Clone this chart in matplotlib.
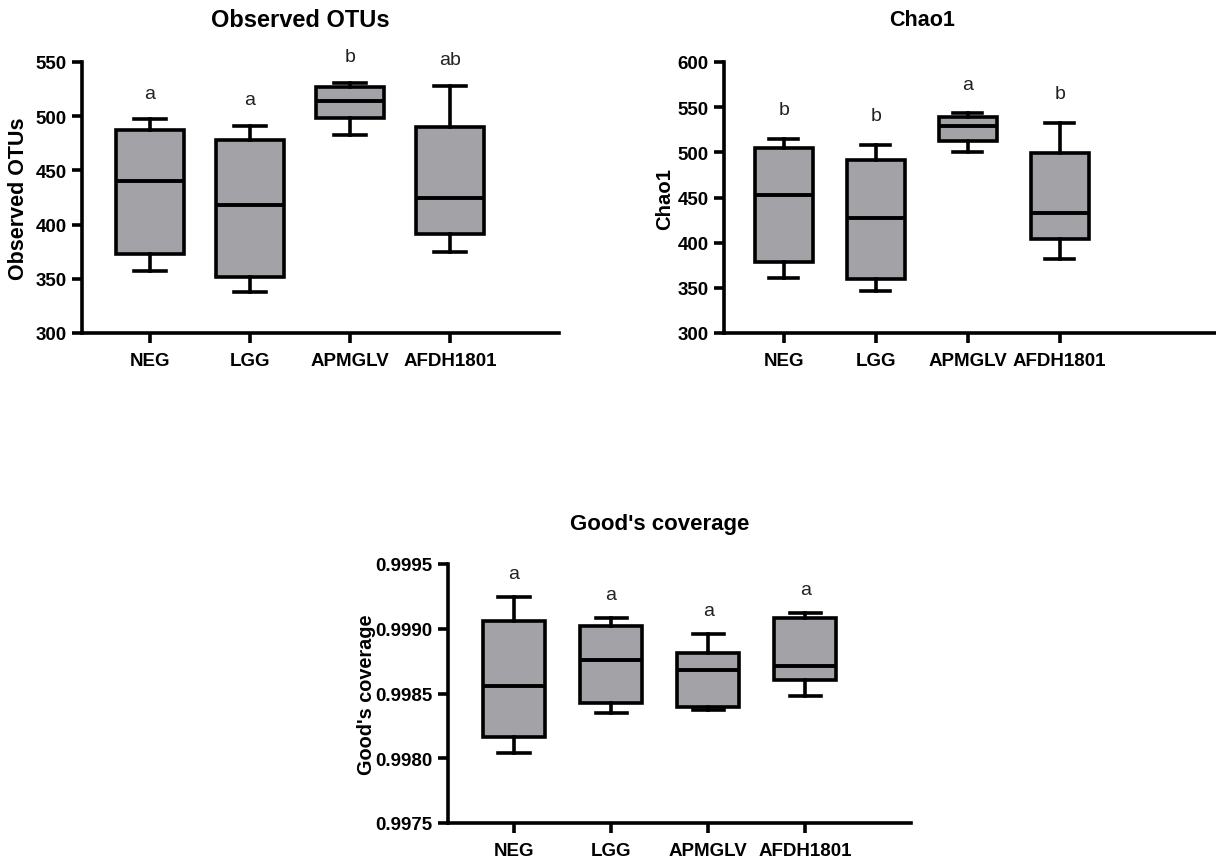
import matplotlib

matplotlib.use("Agg")
import matplotlib.pyplot as plt
import numpy as np
from matplotlib.ticker import FormatStrFormatter

plt.rcParams["font.family"] = ["Liberation Sans", "DejaVu Sans"]

groups = ["NEG", "LGG", "APMGLV", "AFDH1801"]

# observed OTUs: whisker low, q1, median, q3, whisker high
otus_low = [357, 338, 483, 375]
otus_q1 = [373, 352, 498, 391]
otus_med = [440, 418, 514, 425]
otus_q3 = [487, 478, 527, 490]
otus_high = [497, 491, 531, 528]
otus_letters = ["a", "a", "b", "ab"]

chao_low = [361, 346, 500, 382]
chao_q1 = [379, 360, 513, 404]
chao_med = [453, 427, 529, 433]
chao_q3 = [505, 492, 539, 499]
chao_high = [515, 508, 543, 533]
chao_letters = ["b", "b", "a", "b"]

good_low = [0.998038, 0.998347, 0.998375, 0.998481]
good_q1 = [0.998167, 0.998424, 0.998393, 0.998604]
good_med = [0.998555, 0.998759, 0.998681, 0.998715]
good_q3 = [0.999062, 0.999024, 0.998813, 0.999086]
good_high = [0.999243, 0.999083, 0.998959, 0.999119]
good_letters = ["a", "a", "a", "a"]

BOX_COLOR = "#a2a2a7"
LW = 2.6

W, H = 1216, 862
fig = plt.figure(figsize=(W / 100, H / 100), dpi=100)


def px_axes(left, right, top, bottom):
    return fig.add_axes([left / W, 1 - bottom / H, (right - left) / W, (bottom - top) / H])


def draw_panel(ax, lows, q1s, meds, q3s, highs, letters, title, ylim, yticks, xlim,
               box_w, letter_off, title_x, title_size, ylabel_x, ylabel_size, fmt=None):
    stats = []
    for lo, q1, med, q3, hi in zip(lows, q1s, meds, q3s, highs):
        stats.append({"whislo": lo, "q1": q1, "med": med, "q3": q3, "whishi": hi, "fliers": []})
    pos = np.arange(len(groups))
    ax.bxp(stats, positions=pos, widths=box_w, capwidths=0.32, patch_artist=True,
           showfliers=False,
           boxprops=dict(facecolor=BOX_COLOR, edgecolor="black", linewidth=LW),
           medianprops=dict(color="black", linewidth=2.8),
           whiskerprops=dict(color="black", linewidth=LW),
           capprops=dict(color="black", linewidth=LW))
    for x, hi, lab in zip(pos, highs, letters):
        ax.annotate(lab, (x, hi), xytext=(0, letter_off), textcoords="offset points",
                    ha="center", va="center", fontsize=14, color="#222222")
    ax.set_xlim(*xlim)
    ax.set_ylim(*ylim)
    ax.set_yticks(yticks)
    if fmt:
        ax.yaxis.set_major_formatter(FormatStrFormatter(fmt))
    ax.set_xticks(pos)
    ax.set_xticklabels(groups)
    for s in ["top", "right"]:
        ax.spines[s].set_visible(False)
    for s in ["left", "bottom"]:
        ax.spines[s].set_linewidth(LW)
    ax.tick_params(width=LW, length=7, labelsize=13.5, pad=4)
    ax.tick_params(axis="x", pad=7)
    for t in ax.get_xticklabels() + ax.get_yticklabels():
        t.set_fontweight("bold")
    ax.set_ylabel(title, fontsize=ylabel_size, fontweight="bold", va="center")
    ax.yaxis.set_label_coords(ylabel_x, 0.5)
    ax.text(title_x, 1.155, title, transform=ax.transAxes, ha="center", va="center",
            fontsize=title_size, fontweight="bold")


ax1 = px_axes(82, 559, 63, 334)
draw_panel(ax1, otus_low, otus_q1, otus_med, otus_q3, otus_high, otus_letters,
           "Observed OTUs", (300, 550), np.arange(300, 551, 50), (-0.68, 4.09),
           0.68, 18.7, 0.457, 17, -0.134, 15.5)

ax2 = px_axes(724, 1216, 63, 334)
draw_panel(ax2, chao_low, chao_q1, chao_med, chao_q3, chao_high, chao_letters,
           "Chao1", (300, 600), np.arange(300, 601, 50), (-0.65, 4.7),
           0.63, 21.2, 0.402, 15.5, -0.12, 14.6)

ax3 = px_axes(448, 911, 565, 824)
draw_panel(ax3, good_low, good_q1, good_med, good_q3, good_high, good_letters,
           "Good's coverage", (0.9975, 0.9995), [0.9975, 0.9980, 0.9985, 0.9990, 0.9995],
           (-0.68, 4.09), 0.64, 16.9, 0.457, 16, -0.177, 14.3, fmt="%.4f")

fig.savefig("out.png", dpi=100)
